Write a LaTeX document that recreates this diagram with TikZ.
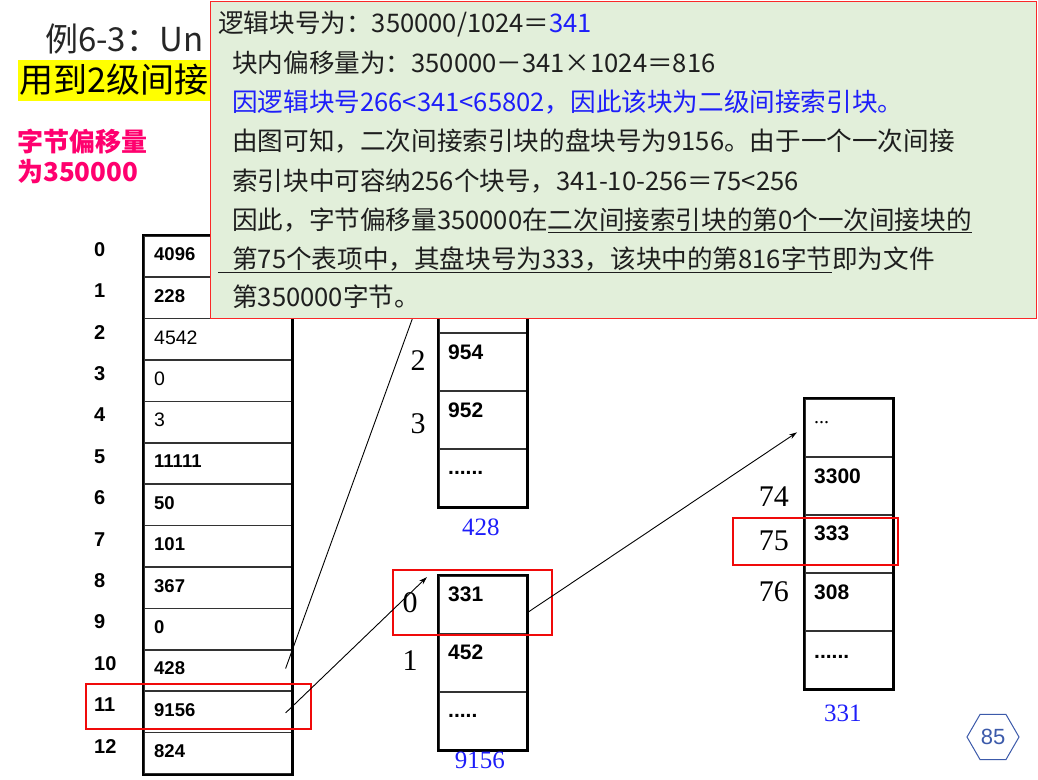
\documentclass[tikz,border=0pt]{standalone}
\usepackage{fontspec}
\setmainfont{Noto Sans CJK SC}
\newfontfamily\arialf{Liberation Sans}
\newfontfamily\seriff{Liberation Serif}
\usetikzlibrary{shapes.geometric,arrows.meta,calc}
\definecolor{notefill}{RGB}{226,239,218}
\definecolor{notered}{RGB}{250,40,40}
\definecolor{boxred}{RGB}{240,10,10}
\definecolor{txtblue}{RGB}{30,30,250}
\definecolor{pinkt}{RGB}{255,0,110}
\definecolor{hexblue}{RGB}{60,90,170}
\definecolor{hlyellow}{RGB}{255,255,0}
\definecolor{darktxt}{RGB}{30,30,30}
\newcommand\pxf[1]{\fontsize{#1pt}{#1pt}\selectfont}
\begin{document}
\begin{tikzpicture}[x=1pt,y=-1pt,
  cellbase/.style={draw=black!80, line width=1.6pt, inner sep=0pt, anchor=north west},
  cellL/.style={cellbase, minimum width=148pt, minimum height=41.4pt},
  cellM/.style={cellbase, minimum width=88pt, minimum height=58pt},
  outerbox/.style={draw=black, line width=2.6pt},
  valL/.style={anchor=west, inner sep=0pt, font=\arialf\bfseries\pxf{18.5}},
  valLr/.style={anchor=west, inner sep=0pt, text=black, font=\arialf\pxf{19.5}},
  valM/.style={anchor=west, inner sep=0pt, font=\arialf\bfseries\pxf{21}},
  idxL/.style={anchor=west, inner sep=0pt, font=\arialf\bfseries\pxf{20}},
  idxS/.style={inner sep=0pt, font=\seriff\pxf{30}},
  tname/.style={inner sep=0pt, text=txtblue, font=\seriff\pxf{25}},
  redbox/.style={draw=boxred, line width=2.8pt},
  conn/.style={draw=black, line width=0.9pt, -{Stealth[length=8pt,width=5pt]}},
  notetxt/.style={anchor=base west, inner sep=0pt, text=darktxt, font=\pxf{25.6}},
]
\useasboundingbox (0,0) rectangle (1038,779);
\fill[white] (0,0) rectangle (1038,779);

% title area
\node[anchor=west, inner sep=0pt, text=black!85, font=\pxf{33}] (title) at (45,39) {例6-3：Un};
\fill[hlyellow] (18,60) rectangle (212,101);
\node[anchor=west, inner sep=0pt, text=black, font=\pxf{34}] (sub) at (19,80) {用到2级间接};
\node[anchor=west, inner sep=0pt, text=pinkt, font=\bfseries\pxf{26}] (pk1) at (17,142) {字节偏移量};
\node[anchor=west, inner sep=0pt, text=pinkt, font=\bfseries\pxf{26}] (pk2) at (17,172) {为350000};

% left table (inode)
\foreach \i/\v/\st in {0/4096/valL,1/228/valL,2/4542/valLr,3/0/valLr,4/3/valLr,5/11111/valL,6/50/valL,7/101/valL,8/367/valL,9/0/valL,10/428/valL,11/9156/valL,12/824/valL}{
  \node[cellL] (L\i) at (143,{235+41.4*\i}) {};
  \node[\st] (LV\i) at ($(L\i.west)+(11,-2)$) {\v};
  \node[idxL] (LI\i) at ($(L\i.west)+(-49,-7)$) {\i};
}
\draw[outerbox] (L0.north west) rectangle (L12.south east);

% middle table 428
\foreach \i/\y in {0/216,1/274,2/332,3/390,4/448}{
  \node[cellM] (M\i) at (438,\y) {};
}
\draw[outerbox] (M0.north west) rectangle (M4.south east);
\node[valM] (MV2) at ($(M2.north west)+(10,20)$) {954};
\node[valM] (MV3) at ($(M3.north west)+(10,20)$) {952};
\node[valM] (MV4) at ($(M4.north west)+(10,25)$) {......};
\node[idxS] (MI2) at ($(M2.west)+(-20,-1)$) {2};
\node[idxS] (MI3) at ($(M3.west)+(-20,4)$) {3};
\node[tname] (Mname) at ($(M4.south)+(-2,20)$) {428};

% table 9156
\foreach \i/\y in {0/575,1/633,2/691}{
  \node[cellM] (N\i) at (438,\y) {};
}
\draw[outerbox] (N0.north west) rectangle (N2.south east);
\node[valM] (NV0) at ($(N0.north west)+(10,19)$) {331};
\node[valM] (NV1) at ($(N1.north west)+(10,19)$) {452};
\node[valM] (NV2) at ($(N2.north west)+(10,25)$) {.....};
\node[idxS] (NI0) at ($(N0.west)+(-28,-2)$) {0};
\node[idxS] (NI1) at ($(N1.west)+(-28,-2)$) {1};
\node[tname] (Nname) at ($(N2.south)+(-3,10)$) {9156};

% table 331
\foreach \i/\y in {0/398,1/456,2/514,3/572,4/630}{
  \node[cellM] (R\i) at (804,\y) {};
}
\draw[outerbox] (R0.north west) rectangle (R4.south east);
\node[anchor=west, inner sep=0pt, font=\seriff\pxf{20}] (RV0) at ($(R0.north west)+(10,25)$) {...};
\node[valM] (RV1) at ($(R1.north west)+(10,20)$) {3300};
\node[valM] (RV2) at ($(R2.north west)+(10,19)$) {333};
\node[valM] (RV3) at ($(R3.north west)+(10,20)$) {308};
\node[valM] (RV4) at ($(R4.north west)+(10,27)$) {......};
\node[idxS, anchor=east] (RI74) at (789,497) {74};
\node[idxS, anchor=east] (RI75) at (789,541) {75};
\node[idxS, anchor=east] (RI76) at (789,592) {76};
\node[tname] (Rname) at ($(R4.south)+(-6,24)$) {331};

% red highlight boxes
\draw[redbox] (86,684) rectangle (311,729);
\draw[redbox] (393,570) rectangle (552,635);
\draw[redbox] (733,518) rectangle (898,565);

% connectors
\coordinate (m428tip) at (434,259);
\draw[conn] ($(L10.east)+(-7,-2)$) -- (m428tip);
\draw[conn] ($(L11.east)+(-7,1)$) -- ($(N0.north west)+(-11,2)$);
\draw[conn] ($(N0.east)+(1,7)$) -- ($(R0.west)+(-7,4.5)$);

% page number hexagon
\node[regular polygon, regular polygon sides=6,
      draw=hexblue, line width=1pt, minimum size=52pt, inner sep=0pt,
      text=hexblue, font=\arialf\pxf{22}] (pg) at (993,737) {85};

% callout note
\node[draw=notered, line width=1.4pt, fill=notefill, anchor=north west,
      minimum width=826pt, minimum height=317pt, inner sep=0pt] (note) at (210,1) {};
\node[notetxt] (t1) at (218,32) {逻辑块号为：350000/1024＝\textcolor{txtblue}{341}};
\node[notetxt] (t2) at (232,72) {块内偏移量为：350000－341×1024＝816};
\node[notetxt, text=txtblue] (t3) at (232,111) {因逻辑块号266<341<65802，因此该块为二级间接索引块。};
\node[notetxt] (t4) at (232,150) {由图可知，二次间接索引块的盘块号为9156。由于一个一次间接};
\node[notetxt] (t5) at (232,190) {索引块中可容纳256个块号，341-10-256＝75<256};
\node[notetxt] (t6) at (232,229) {因此，字节偏移量350000在\underline{二次间接索引块的第0个一次间接块的}};
\node[notetxt] (t7) at (218,268) {\underline{\hspace{14pt}第75个表项中，其盘块号为333，该块中的第816字节}即为文件};
\node[notetxt] (t8) at (232,306) {第350000字节。};
\end{tikzpicture}
\end{document}
